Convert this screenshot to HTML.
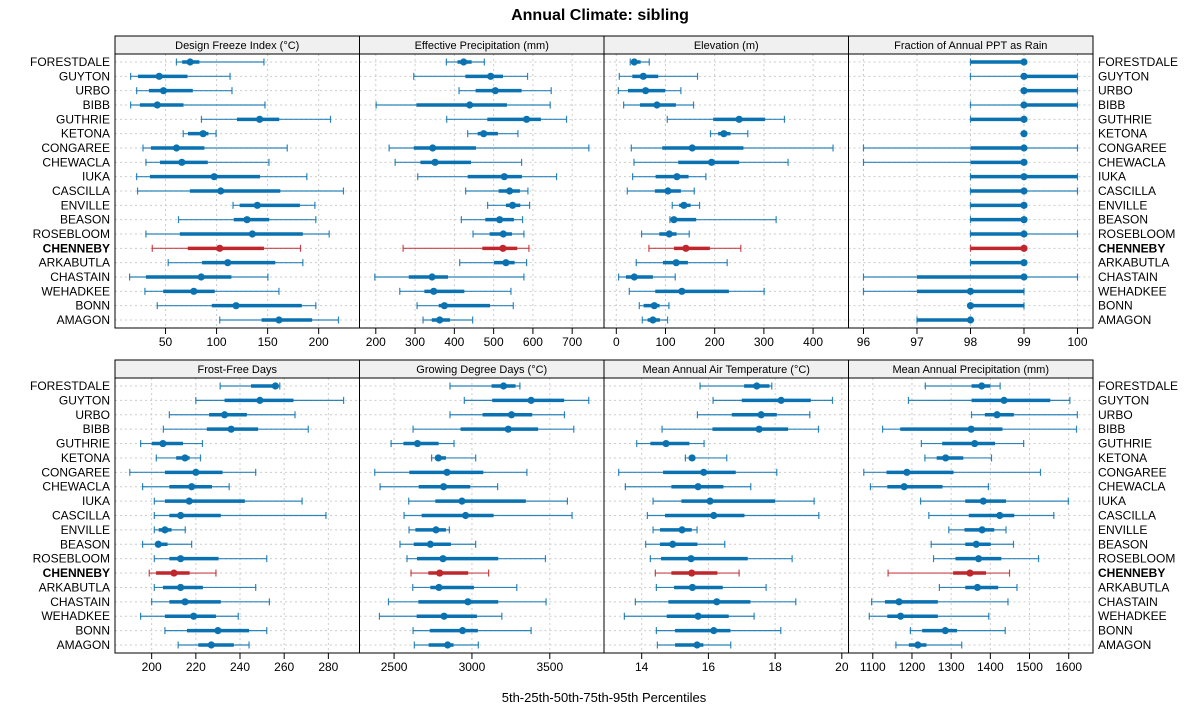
<!DOCTYPE html>
<html><head><meta charset="utf-8"><style>
html,body{margin:0;padding:0;background:#fff;}
svg{display:block;font-family:"Liberation Sans",sans-serif;}
</style></head><body>
<svg id="chart" width="1200" height="725" viewBox="0 0 1200 725" xmlns="http://www.w3.org/2000/svg">
<text x="600" y="20" text-anchor="middle" font-size="16" font-weight="bold">Annual Climate: sibling</text>
<text x="604" y="702" text-anchor="middle" font-size="13">5th-25th-50th-75th-95th Percentiles</text>
</svg>
<script>
const soils = ["FORESTDALE","GUYTON","URBO","BIBB","GUTHRIE","KETONA","CONGAREE","CHEWACLA","IUKA","CASCILLA","ENVILLE","BEASON","ROSEBLOOM","CHENNEBY","ARKABUTLA","CHASTAIN","WEHADKEE","BONN","AMAGON"];
const highlight = "CHENNEBY";
const titles = ["Design Freeze Index (\u00B0C)","Effective Precipitation (mm)","Elevation (m)","Fraction of Annual PPT as Rain","Frost-Free Days","Growing Degree Days (\u00B0C)","Mean Annual Air Temperature (\u00B0C)","Mean Annual Precipitation (mm)"];
const ticks1 = [50,100,150,200];
const ticks2 = [200,300,400,500,600,700];
const ticks3 = [0,100,200,300,400];
const ticks4 = [96,97,98,99,100];
const ticks5 = [200,220,240,260,280];
const ticks6 = [2500,3000,3500];
const ticks7 = [14,16,18,20];
const ticks8 = [1100,1200,1300,1400,1500,1600];
const freezeIndex = [[60.7,66.3,74.1,83.2,146.4],[15.8,23,43.8,71.5,113.2],[21.7,33.7,48,76.7,115.1],[15.8,24.9,41.9,67.6,147.4],[85.2,120,142.2,161.4,211.6],[67.3,72,86.8,92,99.5],[27.9,35.7,60.7,88.1,169.2],[30.8,44.5,66,91.4,151.3],[21.7,34.7,97.6,142.5,188.4],[22.6,73.8,104.1,162.4,224.3],[116.1,122.6,139.9,181.6,196.3],[62.7,116.8,129.8,151.6,197.2],[30.8,64,135,184.5,210.3],[37,71.8,103.1,146.4,182.2],[52.6,85.8,110.9,157.5,184.5],[14.8,30.8,84.9,114.5,150.3],[29.8,47.7,77.7,98.2,161.1],[41.9,95.3,119.1,183.5,197.2],[103.1,144.1,161.1,193.6,219.4]];
const effPrecip = [[379.7,408,423.7,444,476.3],[296.6,428,492.4,523.7,586.4],[411.9,454.2,504.2,571.2,646.6],[200.8,303.4,439,533.9,644],[380.5,483.9,583.9,620.3,685.6],[433.9,459.3,474.6,511,561.9],[233.9,296.6,344.9,455,742.4],[249.2,313.6,350.8,442.4,571.2],[306.8,433.9,527.1,572,660.2],[428.8,512.7,540.7,566.9,587.3],[484.7,531.4,548.3,567.8,591.5],[417.8,478.8,515.3,551.7,573.7],[447.5,489.8,524.6,546.6,577.1],[269.5,471.2,523.7,560.2,589.8],[413.6,500.8,531.4,553.4,583.9],[197.5,283.9,343.2,383.9,577.1],[261,323.7,347.5,425.4,544.1],[305.1,360.2,374.6,490.7,550],[320.3,342.4,362.7,389,446.6]];
const elevation = [[28.4,31.8,36.5,49.4,67],[6.1,32.5,54.8,85.3,165.1],[4.1,23.7,59.6,99.5,131.3],[14.9,48.1,82.6,121.2,157],[103.6,197,249.7,302.5,341.8],[191.5,207.1,218.6,232.1,267.3],[30.5,93.4,154.3,258.5,440.6],[35.9,125.9,193.6,249.7,349.2],[33.2,79.9,123.2,146.9,182.1],[22.3,78.5,104.9,131.3,158.4],[113.7,127.9,137.4,151,169.2],[109,112.4,117.1,162.4,324.9],[51.4,87.3,107.6,122.5,148.2],[66.3,117.1,141.5,190.2,253.1],[40.6,94.8,121.8,145.5,225.4],[4.7,19.6,36.5,74.4,119.8],[26.4,79.2,133.3,228.8,300.5],[46.7,55.5,77.2,88,106.9],[52.8,63.6,74.4,88.7,104.2]];
const rainFraction = [[98,98,99,99,99],[98,99,99,100,100],[99,99,99,100,100],[98,99,99,100,100],[98,98,99,99,99],[99,99,99,99,99],[96,98,99,99,100],[96,98,99,99,99],[98,98,99,100,100],[98,98,99,99,100],[98,98,99,99,99],[98,98,99,99,99],[98,98,99,99,100],[98,98,99,99,99],[98,98,99,99,99],[96,97,99,99,100],[96,97,98,99,99],[98,98,98,99,99],[97,97,98,98,98]];
const frostFree = [[231,245,256,257.5,258],[220,233,249,264.2,286.9],[208,226,233,243.1,264.9],[205.3,225,236,248.2,270.9],[195,200,205.1,214.2,223],[202.1,211.1,215.1,217.2,222.1],[190.1,206,220,232.1,247.1],[195.9,208,218.1,227.3,235.1],[201.2,206,217,242.2,268.1],[201.2,208,213.1,231.3,278.9],[201.2,203.2,206,209,215.2],[195.9,201.5,203,207.2,218.1],[201.2,208,213.1,230.3,252.1],[198.9,202,210.1,217.2,229.1],[201.2,205.1,213.1,223.2,247.1],[200,208,215.1,231.3,253.3],[195,206,219,229.1,239.2],[206,216,230,244.1,252.1],[212,221.1,227,237.2,244.1]];
const gdd = [[2859,3126,3203,3280,3308],[2951,3130,3380,3592,3750],[2859,3068,3254,3387,3594],[2622,2927,3233,3425,3654],[2481,2560,2650,2786,2885],[2741,2774,2784,2833,3024],[2376,2598,2840,3073,3353],[2410,2658,2818,2989,3165],[2594,2765,2936,3346,3613],[2564,2677,2959,3139,3643],[2596,2637,2769,2833,2855],[2538,2626,2733,2865,3024],[2583,2647,2814,3169,3472],[2609,2720,2793,2976,3107],[2620,2733,2788,3013,3288],[2464,2656,2974,3169,3476],[2406,2645,2821,3032,3192],[2622,2729,2940,3038,3380],[2630,2722,2844,2882,3041]];
const maat = [[15.75,17.07,17.45,17.83,17.9],[16.14,17.0,18.18,19.07,19.72],[15.67,16.7,17.58,18.05,19.04],[14.61,16.12,17.52,18.39,19.3],[13.85,14.26,14.73,15.43,15.87],[15.31,15.48,15.51,15.54,16.55],[13.31,14.64,15.86,16.82,18.05],[13.51,14.89,15.69,16.45,17.27],[14.34,15.19,16.05,18.0,19.17],[14.17,14.7,16.16,17.08,19.31],[14.34,14.55,15.21,15.5,15.66],[14.12,14.55,14.93,15.67,16.49],[14.26,14.58,15.48,17.18,18.51],[14.41,14.89,15.5,16.27,16.92],[14.44,14.97,15.52,16.43,17.73],[13.81,14.8,16.25,17.26,18.62],[13.48,14.75,15.69,16.61,17.37],[14.44,15.0,16.16,16.66,18.17],[14.47,15.0,15.66,15.85,16.67]];
const map = [[1234,1352,1378,1400,1425],[1191,1352,1435,1553,1603],[1352,1386,1417,1460,1622],[1125,1170,1351,1431,1620],[1224,1277,1360,1412,1485],[1233,1263,1286,1331,1403],[1077,1135,1187,1306,1528],[1094,1137,1180,1278,1395],[1222,1336,1382,1440,1599],[1243,1345,1424,1461,1562],[1294,1334,1379,1410,1440],[1249,1336,1364,1401,1459],[1255,1311,1370,1428,1523],[1139,1305,1348,1389,1449],[1270,1336,1367,1420,1468],[1097,1131,1167,1266,1445],[1091,1137,1171,1266,1396],[1196,1226,1285,1315,1438],[1159,1192,1215,1237,1327]];

const allData = [freezeIndex,effPrecip,elevation,rainFraction,frostFree,gdd,maat,map];
const allTicks = [ticks1,ticks2,ticks3,ticks4,ticks5,ticks6,ticks7,ticks8];
const domains = [[0.5,240],[158.5,781],[-25,472],[95.72,100.29],[183.4,294.1],[2278,3848],[12.87,20.2],[1038,1662]];
const NS="http://www.w3.org/2000/svg";
const svg=document.getElementById('chart');
function mk(tag,attrs,parent){const e=document.createElementNS(NS,tag);for(const k in attrs)e.setAttribute(k,attrs[k]);(parent||svg).appendChild(e);return e;}
const X0=115, PW=244.5;
const rowsY=[[36,54,328],[360,378,653]];
for(let p=0;p<8;p++){
  const r=Math.floor(p/4), c=p%4;
  const x0=X0+c*PW, x1=x0+PW;
  const [st,top,bot]=rowsY[r];
  const dom=domains[p];
  const sx=v=>x0+(v-dom[0])/(dom[1]-dom[0])*PW;
  const n=soils.length;
  const sy=i=>top+8+i*((bot-top-16)/(n-1));
  const g=mk('g',{});
  
  
  const strip=mk('rect',{x:x0,y:st,width:PW,height:top-st,fill:'#f0f0f0',stroke:'#000','stroke-width':1},g);
  
  
  const stt=mk('text',{x:(x0+x1)/2,y:st+13,'text-anchor':'middle','font-size':11},g);
  stt.textContent=titles[p];
  
  
  allTicks[p].forEach(t=>{
    const gl=mk('line',{x1:sx(t),x2:sx(t),y1:top,y2:bot,stroke:'#ccc','stroke-dasharray':'2,3','stroke-width':1},g);
    
    
    mk('line',{x1:sx(t),x2:sx(t),y1:bot,y2:bot+6,stroke:'#000','stroke-width':1},g);
    const tl=mk('text',{x:sx(t),y:bot+18,'text-anchor':'middle','font-size':12},g);
    tl.textContent=String(t);
    
    
  });
  soils.forEach((s,i)=>{
    const hl=mk('line',{x1:x0,x2:x1,y1:sy(i),y2:sy(i),stroke:'#ccc','stroke-dasharray':'2,3','stroke-width':1},g);
    
    
  });
  soils.forEach((s,i)=>{
    const d=allData[p][i];
    const col=s===highlight?'#c0272d':'#0a72b0';
    const y=sy(i);
    const mg=mk('g',{},g);
    
    
    mk('line',{x1:sx(d[0]),x2:sx(d[4]),y1:y,y2:y,stroke:col,'stroke-width':1.2,'stroke-opacity':0.85},mg);
    mk('line',{x1:sx(d[0]),x2:sx(d[0]),y1:y-3.5,y2:y+3.5,stroke:col,'stroke-width':1.2,'stroke-opacity':0.85},mg);
    mk('line',{x1:sx(d[4]),x2:sx(d[4]),y1:y-3.5,y2:y+3.5,stroke:col,'stroke-width':1.2,'stroke-opacity':0.85},mg);
    mk('line',{x1:sx(d[1]),x2:sx(d[3]),y1:y,y2:y,stroke:col,'stroke-width':3.5},mg);
    mk('circle',{cx:sx(d[2]),cy:y,r:3.6,fill:col},mg);
  });
  const fr=mk('rect',{x:x0,y:top,width:PW,height:bot-top,fill:'none',stroke:'#000','stroke-width':1},g);
  
  
  if(c===0||c===3){
    soils.forEach((s,i)=>{
      const t=mk('text',{x:c===0?x0-5:x1+5,y:sy(i)+4,'text-anchor':c===0?'end':'start','font-size':12,'font-weight':s===highlight?'bold':'normal'},g);
      t.textContent=s;
      
      
    });
  }
}
</script>
</body></html>
